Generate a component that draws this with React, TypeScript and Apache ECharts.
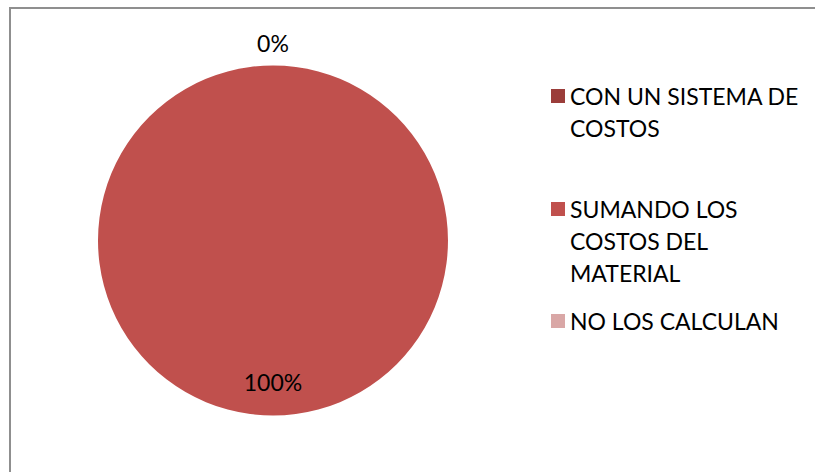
import React, { useEffect, useRef } from 'react';
import * as echarts from 'echarts';

const categories = ['CON UN SISTEMA DE COSTOS', 'SUMANDO LOS COSTOS DEL MATERIAL', 'NO LOS CALCULAN'];
const values = [0, 100, 0];
const legendLabels = ['\nCON UN SISTEMA DE\nCOSTOS', '\n\nSUMANDO LOS\nCOSTOS DEL\nMATERIAL', 'NO LOS CALCULAN'];
const colors = ['#9B3D3A', '#C0504D', '#D9A7A6'];
const legendTops = [48, 129, 305];

const FONT = 'Lato, "Liberation Sans", sans-serif';

export default function App() {
  const ref = useRef<HTMLDivElement>(null);
  useEffect(() => {
    if (!ref.current) return;
    const chart = echarts.init(ref.current, null, { renderer: 'svg' });
    const option: any = {
      animation: false,
      backgroundColor: '#ffffff',
      color: colors,
      graphic: [
        {
          type: 'rect',
          shape: { x: 10, y: 8, width: 900, height: 600 },
          style: { fill: 'none', stroke: '#8f8f8f', lineWidth: 2 },
          silent: true,
        },
      ],
      legend: categories.map((name, i) => ({
        orient: 'vertical',
        left: 551,
        top: legendTops[i],
        padding: 0,
        icon: 'rect',
        itemWidth: 14,
        itemHeight: 14,
        selectedMode: false,
        data: [name],
        formatter: (n: string) => legendLabels[categories.indexOf(n)],
        textStyle: { fontFamily: FONT, fontSize: 23, lineHeight: 32, color: '#000' },
      })),
      series: [
        {
          type: 'pie',
          center: [273, 240.5],
          radius: 175,
          startAngle: 90,
          clockwise: true,
          avoidLabelOverlap: false,
          label: {
            show: true,
            position: 'inside',
            formatter: '{d}%',
            fontFamily: FONT,
            fontSize: 23,
            color: '#000',
          },
          labelLine: { show: false },
          labelLayout: (p: any) => {
            if (p.dataIndex === 0) return { dy: -107 };
            if (p.dataIndex === 1) return { dy: 51 };
            return {};
          },
          emphasis: { disabled: true },
          data: categories.map((name, i) => ({
            name,
            value: values[i],
            itemStyle: { color: colors[i] },
            label: i === 2 ? { show: false } : undefined,
          })),
        },
      ],
    };
    chart.setOption(option);
    return () => chart.dispose();
  }, []);
  return (
    <div
      ref={ref}
      style={{ position: 'absolute', left: 0, top: 0, width: 815, height: 472 }}
    />
  );
}
